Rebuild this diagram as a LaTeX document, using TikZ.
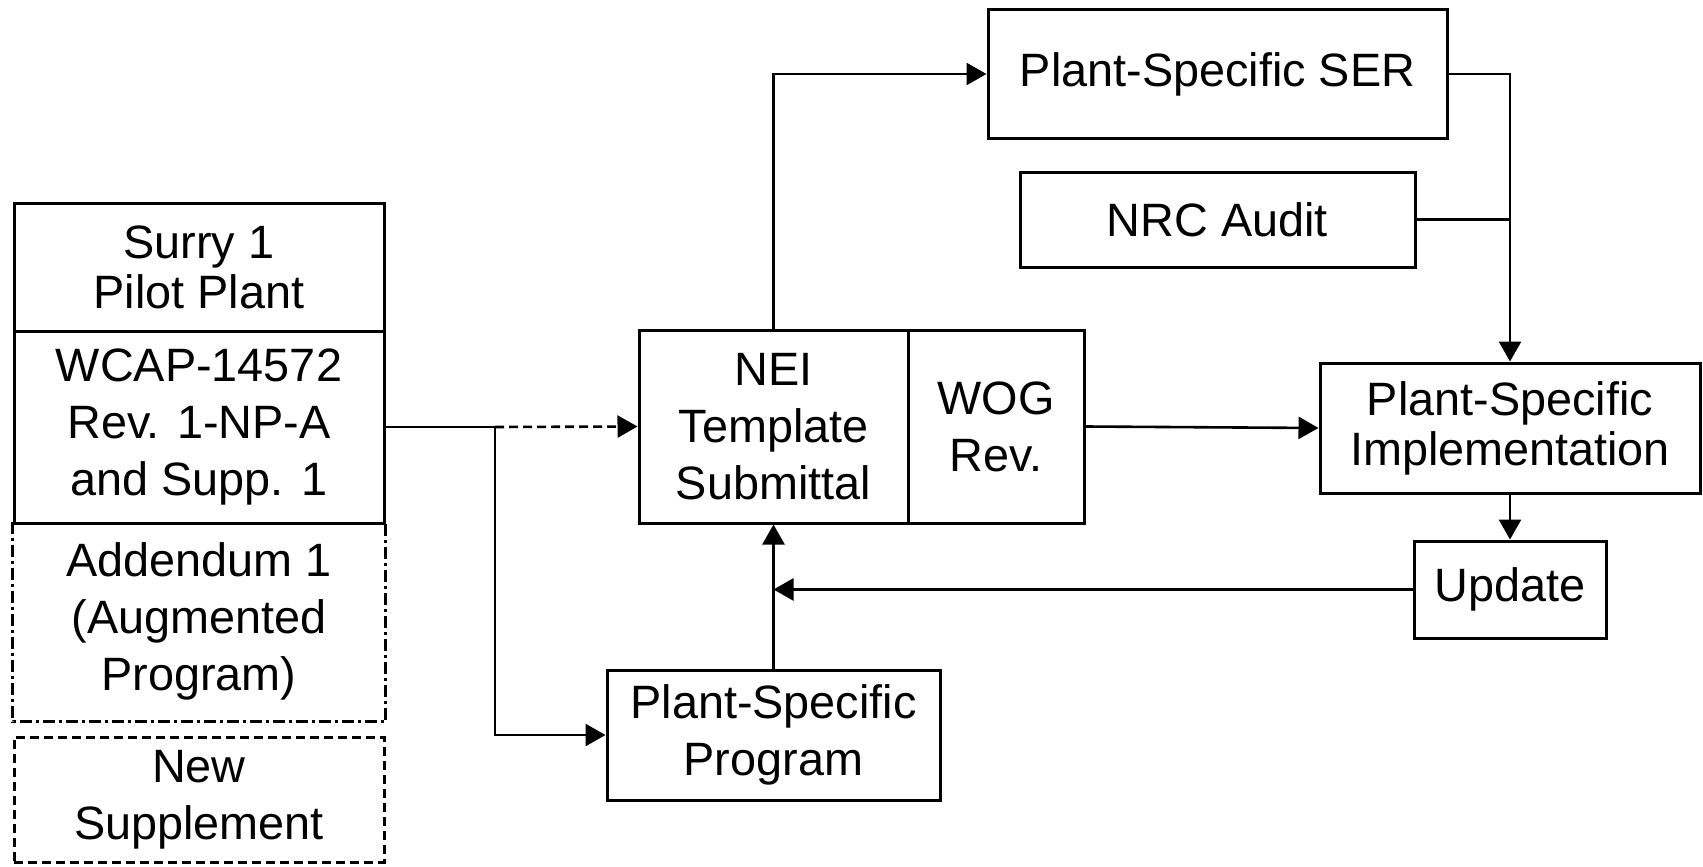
\documentclass[tikz,border=0pt]{standalone}
\usepackage{fontspec}
\setmainfont{Liberation Sans}
\usetikzlibrary{arrows.meta}
\begin{document}
\begin{tikzpicture}[x=1pt,y=1pt,
  box/.style={draw, line width=3pt, inner sep=0pt, align=center,
    font=\fontsize{46.8}{57}\selectfont},
  tight/.style={font=\fontsize{46.8}{50}\selectfont},
  conn/.style={line width=2.6pt},
  arr/.style={conn, -{Triangle[length=20pt,width=22pt]}},
  dashdot/.style={dash pattern=on 12pt off 4pt on 3pt off 4pt},
  shortdash/.style={dash pattern=on 9pt off 5pt}]
\useasboundingbox (0,0) rectangle (1703,-867);
% left column
\node[box, tight, minimum width=370pt, minimum height=128pt] (surry) at (199,-267) {Surry 1\\Pilot Plant};
\node[box, minimum width=370pt, minimum height=192pt] (wcap) at (199,-427) {WCAP-14572\\Rev. 1-NP-A\\and Supp. 1};
\node[box, draw=none, minimum width=370pt, minimum height=197pt] (addendum) at (199,-621.5) {Addendum 1\\(Augmented\\Program)};
\draw[line width=3pt, dashdot] (addendum.north west) -- (addendum.south west) -- (addendum.south east) -- (addendum.north east);
\node[box, shortdash, minimum width=370pt, minimum height=125pt] (newsupp) at (199,-799.5) {New\\Supplement};
% middle
\node[box, minimum width=269pt, minimum height=193pt] (nei) at (773.5,-426.5) {NEI\\Template\\Submittal};
\node[box, minimum width=176pt, minimum height=193pt] (wog) at (996,-426.5) {WOG\\Rev.};
\node[box, minimum width=333pt, minimum height=130pt] (program) at (773.5,-735) {Plant-Specific\\Program};
% right
\node[box, minimum width=459pt, minimum height=128pt] (ser) at (1217.5,-74) {Plant-Specific SER};
\node[box, minimum width=395pt, minimum height=95pt] (nrc) at (1217.5,-219.5) {NRC Audit};
\node[box, tight, minimum width=380pt, minimum height=130pt] (impl) at (1510,-428) {Plant-Specific\\Implementation};
\node[box, minimum width=192pt, minimum height=97pt] (update) at (1510,-589.5) {Update};
% connectors
\coordinate (branch) at (495,-427);
\draw[conn] (wcap.east) -- (branch);
\draw[arr, shortdash] (branch) -- (nei.west);
\draw[arr] (branch) |- (program.west);
\draw[arr] (program.north) -- (nei.south);
\coordinate (join) at (program.north |- update.west);
\draw[arr] (update.west) -- (join);
\draw[arr] (nei.north) |- (ser.west);
\draw[arr] (ser.east) -| (impl.north);
\draw[conn] (nrc.east) -- (impl.north |- nrc.east);
\draw[arr] (wog.east) -- (impl.west);
\draw[arr] (impl.south) -- (update.north);
\end{tikzpicture}
\end{document}
